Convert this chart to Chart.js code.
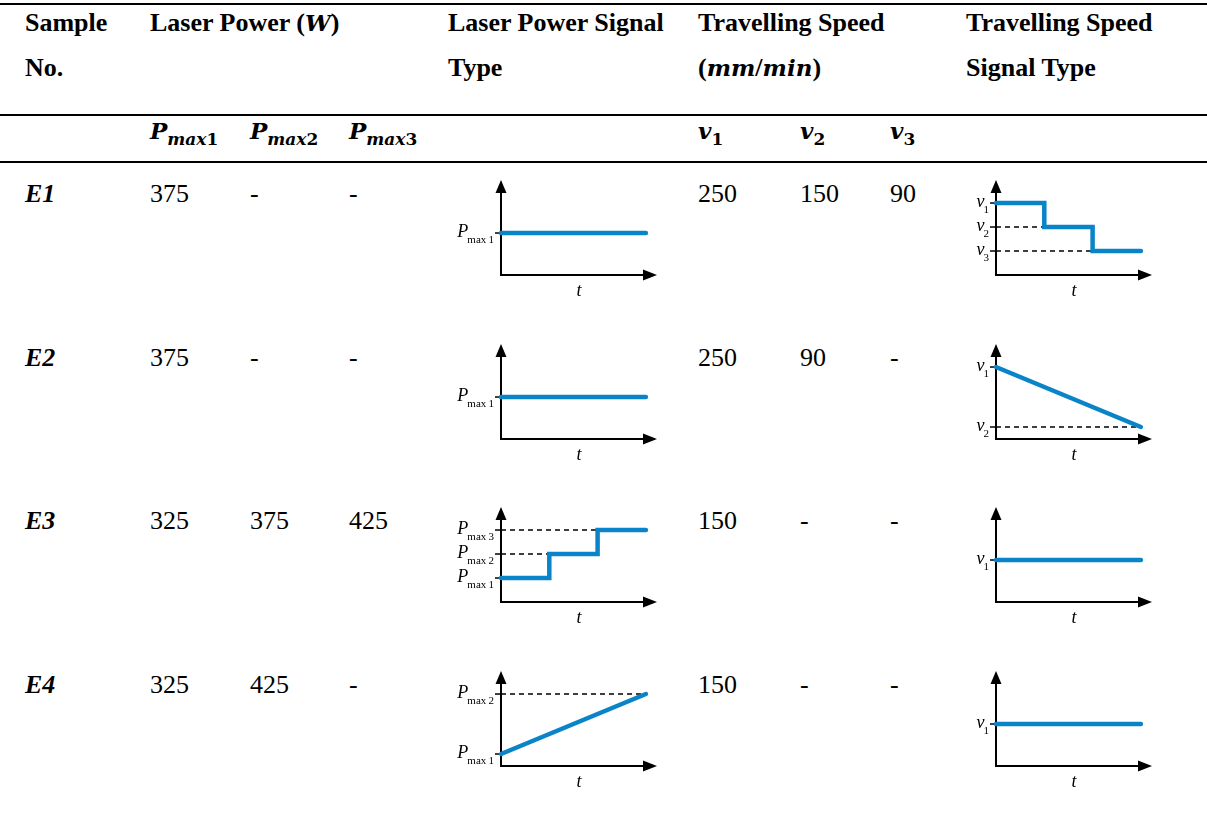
<!DOCTYPE html>
<html>
<head>
<meta charset="utf-8">
<title>Sample signals</title>
<script src="https://cdn.jsdelivr.net/npm/chart.js@4.4.1/dist/chart.umd.min.js"></script>
<style>
  body {
    margin: 0;
    background: #fff;
    width: 1207px;
    height: 816px;
    overflow: hidden;
    position: relative;
    font-family: "Liberation Serif", "Times New Roman", serif;
    color: #000;
  }
  .rule { position: absolute; left: 0; width: 1207px; height: 2px; background: #000; }
  .txt {
    position: absolute;
    white-space: nowrap;
    line-height: 1;
    font-size: 26px;
    font-family: "Liberation Serif", "Times New Roman", serif;
  }
  .b { font-weight: bold; }
  .bi { font-weight: bold; font-style: italic; }
  .m { font-family: "DejaVu Serif", serif; font-size: 23px; font-weight: bold; font-style: italic; }
  .sub { position: relative; top: 6px; font-size: 17px; }
  .up { font-style: normal; }
  canvas.sig { position: absolute; }
</style>
</head>
<body>
<div class="rule" style="top:3px"></div>
<div class="rule" style="top:114px"></div>
<div class="rule" style="top:161px"></div>
<div id="table"></div>
<script>
// table values (null = "-")
const samples = ["E1", "E2", "E3", "E4"];
const pMax1 = [375, 375, 325, 325];
const pMax2 = [null, null, 375, 425];
const pMax3 = [null, null, 425, null];
const speed1 = [250, 250, 150, 150];
const speed2 = [150, 90, null, null];
const speed3 = [90, null, null, null];

// schematic signal shapes (levels in sketch units, time 0..3)
const stepTimes = [0, 1, 2, 3];
const rampTimes = [0, 3];
const powerKind = ["constant", "constant", "step", "ramp"];
const powerLevels = [[3.5, 3.5], [3.5, 3.5], [2, 4, 6, 6], [1, 6]];
const speedKind = ["step", "ramp", "constant", "constant"];
const speedLevels = [[6, 4, 2, 2], [6, 1], [3.5, 3.5], [3.5, 3.5]];

const BLUE = "#0a84c8";
const FONT = "'Liberation Serif', 'Times New Roman', serif";

const table = document.getElementById("table");

// put a piece of text with its baseline at y
const place = (html, x, baseline, cls) => {
  const d = document.createElement("div");
  d.className = "txt " + (cls || "");
  d.style.left = x + "px";
  d.style.top = (baseline - 21.8) + "px";
  d.innerHTML = html;
  table.appendChild(d);
};

// header
place("Sample", 25, 32, "b");
place("No.", 25, 77, "b");
place('Laser Power (<span class="m">W</span>)', 150, 32, "b");
place("Laser Power Signal", 448, 32, "b");
place("Type", 448, 77, "b");
place("Travelling Speed", 698, 32, "b");
place('(<span class="m">mm</span>/<span class="m">min</span>)', 698, 77, "b");
place("Travelling Speed", 966, 32, "b");
place("Signal Type", 966, 77, "b");

// sub header
const subCols = [
  ["P", "max", "1", 150], ["P", "max", "2", 250], ["P", "max", "3", 349],
  ["v", "", "1", 698], ["v", "", "2", 800], ["v", "", "3", 890],
];
subCols.forEach(([sym, s, n, x]) => {
  place('<span class="m">' + sym + '<span class="sub">' + s + '<span class="up">' + n + "</span></span></span>", x, 140);
});

const cell = (v) => (v === null ? "-" : String(v));

const firstBaseline = 203;
const rowPitch = 163.5;

// axes, arrows, level ticks and labels for each small signal plot
const signalAxes = {
  id: "signalAxes",
  beforeDatasetsDraw(chart, args, opts) {
    const { ctx, chartArea: a, scales: { y } } = chart;
    ctx.save();
    ctx.strokeStyle = "#000";
    ctx.fillStyle = "#000";
    ctx.lineWidth = 2;
    ctx.beginPath();
    ctx.moveTo(a.left, a.top + 10);
    ctx.lineTo(a.left, a.bottom);
    ctx.lineTo(a.right - 10, a.bottom);
    ctx.stroke();

    ctx.beginPath();
    ctx.moveTo(a.left, a.top);
    ctx.lineTo(a.left - 5.5, a.top + 13);
    ctx.lineTo(a.left + 5.5, a.top + 13);
    ctx.closePath();
    ctx.fill();
    ctx.beginPath();
    ctx.moveTo(a.right, a.bottom);
    ctx.lineTo(a.right - 14, a.bottom - 5.5);
    ctx.lineTo(a.right - 14, a.bottom + 5.5);
    ctx.closePath();
    ctx.fill();

    ctx.lineWidth = 1.5;
    ctx.textAlign = "left";
    ctx.textBaseline = "alphabetic";
    opts.levels.forEach((lv, i) => {
      const py = y.getPixelForValue(lv);
      ctx.beginPath();
      ctx.moveTo(a.left - 6, py);
      ctx.lineTo(a.left, py);
      ctx.stroke();

      const sub = opts.sub + (i + 1);
      ctx.font = "11px " + FONT;
      const sw = ctx.measureText(sub).width;
      const subX = a.left - 7 - sw;
      ctx.fillText(sub, subX, py + 10);
      ctx.font = "italic 18px " + FONT;
      const mw = ctx.measureText(opts.symbol).width;
      ctx.fillText(opts.symbol, subX - mw + 1, py + 4);
    });

    ctx.font = "italic 18px " + FONT;
    ctx.textAlign = "center";
    ctx.fillText("t", (a.left + a.right) / 2, a.bottom + 21);
    ctx.restore();
  },
};

const makeSignal = (left, originY, kind, levels, symbol, sub) => {
  const canvas = document.createElement("canvas");
  canvas.className = "sig";
  canvas.width = 230;
  canvas.height = 125;
  canvas.style.left = left + "px";
  canvas.style.top = (originY - 103) + "px";
  table.appendChild(canvas);

  const times = levels.length === 2 ? rampTimes : stepTimes;
  const distinct = levels.filter((v, i) => levels.indexOf(v) === i);

  const datasets = [{
    data: levels.map((v, i) => ({ x: times[i], y: v })),
    borderColor: BLUE,
    borderWidth: 4.5,
    borderCapStyle: "round",
    pointRadius: 0,
    stepped: kind === "step" ? "before" : false,
    clip: false,
  }];

  // dashed guides back to the axis for the later levels
  distinct.slice(1).forEach((lv, i) => {
    const tEnd = kind === "step" ? stepTimes[i + 1] : rampTimes[1];
    datasets.push({
      data: [{ x: 0, y: lv }, { x: tEnd, y: lv }],
      borderColor: "#000",
      borderWidth: 1.5,
      borderDash: [5, 4],
      pointRadius: 0,
    });
  });

  new Chart(canvas, {
    type: "line",
    data: { datasets },
    options: {
      responsive: false,
      animation: false,
      events: [],
      layout: { padding: { left: 61, right: 13, top: 8, bottom: 22 } },
      scales: {
        x: { type: "linear", min: 0, max: 3.23, display: false },
        y: { type: "linear", min: 0, max: 7.92, display: false },
      },
      plugins: {
        legend: { display: false },
        tooltip: { enabled: false },
        signalAxes: { levels: distinct, symbol: symbol, sub: sub },
      },
    },
    plugins: [signalAxes],
  });
};

samples.forEach((name, r) => {
  const base = firstBaseline + r * rowPitch;
  place(name, 25, base, "bi");
  place(cell(pMax1[r]), 150, base);
  place(cell(pMax2[r]), 250, base);
  place(cell(pMax3[r]), 349, base);
  place(cell(speed1[r]), 698, base);
  place(cell(speed2[r]), 800, base);
  place(cell(speed3[r]), 890, base);

  const originY = base + 72;
  makeSignal(440, originY, powerKind[r], powerLevels[r], "P", "max\u2009");
  makeSignal(935, originY, speedKind[r], speedLevels[r], "v", "");
});
</script>
</body>
</html>
